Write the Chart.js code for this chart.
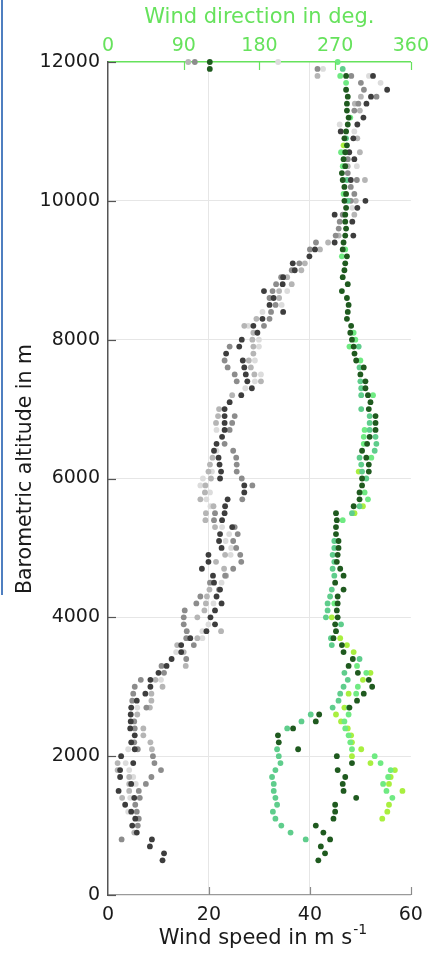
<!DOCTYPE html>
<html>
<head>
<meta charset="utf-8">
<script src="https://cdn.jsdelivr.net/npm/chart.js@4"></script>
<style>
  html, body { margin: 0; padding: 0; background: #fff; }
  #wrap { position: relative; width: 434px; height: 960px; }
  #edge { position: absolute; left: 1px; top: 0; width: 2px; height: 595px; background: #4f7fc0; }
</style>
</head>
<body>
<div id="wrap">
  <canvas id="profil" width="434" height="960"></canvas>
  <div id="edge"></div>
</div>
<script>
// altitude levels (m), top to bottom, one row every 100 m
const altitudes = [
  12000, 11900, 11800, 11700, 11600, 11500, 11400, 11300, 11200, 11100,
  11000, 10900, 10800, 10700, 10600, 10500, 10400, 10300, 10200, 10100,
  10000, 9900, 9800, 9700, 9600, 9500, 9400, 9300, 9200, 9100,
  9000, 8900, 8800, 8700, 8600, 8500, 8400, 8300, 8200, 8100,
  8000, 7900, 7800, 7700, 7600, 7500, 7400, 7300, 7200, 7100,
  7000, 6900, 6800, 6700, 6600, 6500, 6400, 6300, 6200, 6100,
  6000, 5900, 5800, 5700, 5600, 5500, 5400, 5300, 5200, 5100,
  5000, 4900, 4800, 4700, 4600, 4500, 4400, 4300, 4200, 4100,
  4000, 3900, 3800, 3700, 3600, 3500, 3400, 3300, 3200, 3100,
  3000, 2900, 2800, 2700, 2600, 2500, 2400, 2300, 2200, 2100,
  2000, 1900, 1800, 1700, 1600, 1500, 1400, 1300, 1200, 1100,
  1000, 900, 800, 700, 600, 500
];

// wind speed (m/s), four soundings
const speedA = [
  null, null, 52.5, null, 55.3, 52.1, 51.2, null, 50.6, 49.4,
  46.1, 48.6, null, 47.8, 48.8, null, null, 48.1, null, null,
  51.0, 49.4, 44.9, 48.4, null, 48.6, 44.9, 41.0, 39.9, 36.6,
  37.0, 34.7, 34.6, 30.9, 32.8, 32.0, 34.7, 30.6, 28.8, 29.6,
  26.5, 26.0, 23.4, 26.7, 27.0, 27.3, 27.6, 28.5, 26.4, 24.1,
  23.1, 23.1, 23.1, 23.1, 22.6, 21.5, 21.0, 21.9, 22.1, 22.4,
  22.2, 27.0, 27.0, 23.7, 23.2, 23.1, 22.6, 24.6, 22.2, 22.0,
  22.5, 19.9, 19.9, 18.6, 20.8, 21.0, 22.2, 21.5, 22.5, 21.2,
  20.3, 21.2, 19.5, 16.3, 14.5, 14.5, 12.6, 11.6, 10.0, 8.4,
  8.4, 7.4, 5.7, 4.6, 4.5, 4.5, 4.4, 5.3, 4.6, 5.3,
  2.6, 5.0, 2.4, 2.4, 4.6, 2.1, 5.2, 3.4, 4.6, 5.4,
  4.8, 5.7, 8.7, 8.3, 11.1, 10.8
];
const speedB = [
  17.2, 41.5, 48.2, 50.1, 50.7, 53.2, 49.6, 48.8, null, null,
  null, null, null, null, 47.5, null, 47.5, 49.3, 48.1, 48.8,
  48.1, null, 46.5, 45.9, 45.7, 45.1, 41.2, 40.0, null, 37.9,
  36.4, 34.3, 33.3, 32.6, 32.0, 33.2, 32.3, 32.0, 30.9, null,
  null, 24.1, null, 23.1, 23.7, 25.1, 25.5, null, null, null,
  null, 25.1, 24.6, 24.1, null, 23.1, 24.8, 25.4, 25.5, 25.5,
  26.5, 28.6, null, 26.6, null, 21.2, 21.0, 25.1, 25.7, 24.8,
  25.4, 26.2, 26.4, 24.8, 23.2, 20.2, 22.0, 18.3, 17.5, 15.2,
  15.0, 15.0, 15.6, 15.5, 17.0, null, 15.5, 10.6, 11.1, 6.5,
  5.3, 5.0, 4.8, 7.6, null, 5.2, 5.3, null, 5.2, 5.9,
  8.9, 9.2, 10.5, 8.6, 7.5, 6.1, 6.3, 5.4, 5.7, 6.1,
  5.9, null, 2.7, null, null, null
];
const speedC = [
  15.9, null, 41.5, null, null, 50.1, 48.9, 49.9, null, null,
  null, 49.4, null, 49.9, null, 47.5, null, 50.9, null, null,
  49.1, null, 48.8, null, null, 45.7, 43.6, 42.0, null, 39.0,
  38.3, 35.5, 36.4, 33.9, 33.9, null, null, 29.4, 27.0, 28.8,
  28.6, 28.8, 28.8, 27.9, 28.3, 29.0, 30.3, null, 24.6, null,
  22.0, 21.8, 21.4, null, null, null, null, 20.7, 20.2, 19.9,
  20.4, 19.3, 19.2, 18.3, 20.9, 19.4, 19.3, 21.2, null, null,
  null, 23.2, 21.4, 23.0, 23.4, null, 20.1, 19.6, 19.4, 19.1,
  17.7, null, 22.4, 17.7, 13.7, 15.0, null, 15.4, null, 9.4,
  10.8, 8.6, 8.6, 8.3, 5.8, null, 7.0, 7.0, 8.4, 8.7,
  null, 1.9, 1.9, 4.2, 4.2, 4.2, 2.8, null, null, null,
  null, 5.2, null, null, null, null
];
const speedD = [
  33.7, 42.6, 51.7, 54.0, null, null, null, null, null, 45.9,
  48.8, null, null, null, null, 49.3, null, null, null, null,
  null, 48.4, null, null, null, null, null, null, null, null,
  null, null, null, 35.5, null, 34.4, 30.6, null, 27.8, null,
  29.9, 29.9, null, 29.1, null, 30.3, 29.1, 27.2, null, null,
  null, null, null, 21.5, null, null, 21.5, null, null, 20.6,
  18.8, 18.3, 20.2, 19.5, 20.3, null, null, 22.6, 24.0, 23.3,
  24.4, 24.3, null, null, null, 22.5, null, null, 20.9, null,
  null, 19.9, 18.7, 18.7, null, 13.5, null, null, null, 10.5,
  null, null, null, 5.8, null, null, null, null, null, 4.0,
  null, 3.5, 4.2, 5.0, 5.5, null, 4.4, null, 4.0, null,
  null, null, null, null, null, null
];

// wind direction (deg), same soundings
const dirA = [
  121, 121, 283, null, 283, 285, 284, 284, 286, 285,
  283, 281, 284, 282, 280, 282, 278, 279, 281, 283,
  281, 283, 282, 282, 283, 282, 280, 279, 284, 282,
  281, 279, 285, 278, 284, 286, 285, 284, 289, 288,
  290, 292, 293, 295, 304, 300, 306, 306, 309, 312,
  310, 318, 318, 318, 311, 308, 302, 307, 310, 310,
  302, 302, 299, 299, 292, 271, 272, 271, 271, 274,
  274, 273, 272, 276, 280, 270, 280, 273, 273, 272,
  273, 270, 271, 268, 278, 280, 291, 286, 297, 310,
  314, 304, 296, 287, 251, 247, 220, 202, 203, 226,
  272, 290, 273, 282, 279, 280, 295, 270, 270, 268,
  247, 256, 264, 253, 258, 250
];
const dirB = [
  null, 279, null, null, null, null, null, null, null, null,
  null, 283, null, null, null, null, null, 284, null, null,
  285, null, null, null, null, null, null, null, null, null,
  null, null, null, null, null, null, null, null, null, null,
  null, 298, null, null, 299, null, 300, 301, 301, null,
  301, 311, 311, 311, 318, 319, 317, 299, 301, 302,
  307, null, null, null, 299, 290, null, null, null, 269,
  269, 267, 269, 267, 269, null, 266, 264, 261, 261,
  259, 277, null, 265, 266, null, 299, null, 281, 285,
  280, 276, 274, 267, 241, 230, 213, null, null, 201,
  203, 205, 199, 195, 197, 197, 199, 201, 196, 199,
  206, 217, 235, null, null, null
];
const dirC = [
  273, null, 276, 283, null, null, null, null, 288, null,
  null, null, null, 277, null, 279, null, null, null, 280,
  null, null, null, null, null, null, null, 282, 278, null,
  null, null, null, null, null, null, null, null, null, 292,
  294, 287, null, 300, null, null, null, null, 315, null,
  null, null, null, 305, 304, 304, null, 313, null, null,
  null, null, 305, 309, null, null, 279, null, null, null,
  null, null, null, null, null, null, null, null, 269, null,
  null, null, null, null, null, null, null, 296, 307, null,
  297, 295, null, 286, 286, 281, 282, 286, 288, 290,
  317, 324, 336, 333, 327, 331, 338, null, null, null,
  null, null, null, null, null, null
];
const dirD = [
  null, null, null, null, null, null, null, null, null, null,
  null, null, 280, null, null, null, null, null, null, null,
  null, null, null, null, null, null, null, null, null, null,
  null, null, null, null, null, null, null, null, null, null,
  null, null, null, null, null, null, null, null, null, null,
  null, null, null, null, null, null, null, null, null, 298,
  null, null, null, null, 303, 293, null, null, null, null,
  null, null, null, null, null, null, null, null, null, null,
  266, null, null, 276, 284, 292, null, null, 312, 303,
  null, 286, null, 281, 271, 277, 285, 289, 290, 301,
  290, 312, 341, 336, 334, 350, null, 334, 332, 326,
  null, null, null, null, null, null
];

const speedTicks = [0, 20, 40, 60];
const dirTicks = [0, 90, 180, 270, 360];
const altTicks = [0, 2000, 4000, 6000, 8000, 10000, 12000];

const VERT = '#66e25c';
const FONT = "'DejaVu Sans', sans-serif";

function toPoints(values) {
    const pts = [];
    altitudes.forEach((alt, i) => {
        if (values[i] !== null) pts.push({ x: values[i], y: alt });
    });
    return pts;
}

function serie(values, couleur, axe) {
    return {
        data: toPoints(values),
        xAxisID: axe,
        yAxisID: 'y',
        showLine: false,
        pointRadius: 2.9,
        pointBorderWidth: 0,
        pointBackgroundColor: couleur,
        pointHoverRadius: 2.9,
        clip: false
    };
}

// first dataset ends up drawn on top
const datasets = [
    serie(dirA, '#1f5a1f', 'x2'),
    serie(speedA, '#3d3d3d', 'x'),
    serie(dirB, '#5fcd8c', 'x2'),
    serie(speedB, '#8c8c8c', 'x'),
    serie(dirC, '#6fea82', 'x2'),
    serie(speedC, '#b5b5b5', 'x'),
    serie(dirD, '#a9ef3f', 'x2'),
    serie(speedD, '#dcdcdc', 'x')
];

// short ticks pointing into the plot, plus the two titles drawn by hand
const habillage = {
    id: 'habillage',
    afterDraw(chart) {
        const { ctx, chartArea: a, scales } = chart;
        const len = 8;
        const trait = (x1, y1, x2, y2) => {
            ctx.beginPath();
            ctx.moveTo(x1, y1);
            ctx.lineTo(x2, y2);
            ctx.stroke();
        };
        ctx.save();
        ctx.lineWidth = 1.2;

        ctx.strokeStyle = '#555';
        altTicks.forEach(v => {
            const py = Math.round(scales.y.getPixelForValue(v)) + 0.5;
            trait(a.left, py, a.left + len, py);
        });

        ctx.strokeStyle = '#8a8a8a';
        speedTicks.slice(1).forEach(v => {
            const px = Math.round(scales.x.getPixelForValue(v)) + 0.5;
            trait(px, a.bottom, px, a.bottom - len);
        });

        ctx.strokeStyle = VERT;
        dirTicks.slice(1).forEach(v => {
            const px = Math.round(scales.x2.getPixelForValue(v)) + 0.5;
            trait(px, a.top, px, a.top + len);
        });

        ctx.fillStyle = '#1a1a1a';
        ctx.textBaseline = 'alphabetic';

        // Wind speed in m s^-1
        const principal = 'Wind speed in m s';
        const exposant = '-1';
        ctx.font = '21px ' + FONT;
        const w1 = ctx.measureText(principal).width;
        ctx.font = '14px ' + FONT;
        const w2 = ctx.measureText(exposant).width;
        const x0 = (a.left + a.right) / 2 + 3 - (w1 + w2) / 2;
        ctx.font = '21px ' + FONT;
        ctx.textAlign = 'left';
        ctx.fillText(principal, x0, 944);
        ctx.font = '14px ' + FONT;
        ctx.fillText(exposant, x0 + w1 + 1, 934);

        // altitude title, rotated
        ctx.translate(31, 469);
        ctx.rotate(-Math.PI / 2);
        ctx.font = '20.5px ' + FONT;
        ctx.textAlign = 'center';
        ctx.fillText('Barometric altitude in m', 0, 0);
        ctx.restore();
    }
};

const grille = (bords) => (c) => bords.includes(c.tick.value) ? 'rgba(0,0,0,0)' : '#e6e6e6';
const brut = v => String(v);

new Chart(document.getElementById('profil'), {
    type: 'scatter',
    data: { datasets: datasets },
    options: {
        responsive: false,
        animation: false,
        events: [],
        layout: { padding: { left: 0, right: 16, top: 0, bottom: 0 } },
        plugins: {
            legend: { display: false },
            tooltip: { enabled: false }
        },
        scales: {
            x: {
                type: 'linear',
                position: 'bottom',
                min: 0,
                max: 60,
                afterBuildTicks: s => { s.ticks = speedTicks.map(v => ({ value: v })); },
                ticks: { padding: 9, color: '#1a1a1a', font: { family: FONT, size: 19 }, callback: brut },
                grid: { color: grille([0, 60]), drawTicks: false, lineWidth: 1 },
                border: { display: true, color: '#9a9a9a', width: 1.2 },
                afterFit: s => { s.height = 65; }
            },
            x2: {
                type: 'linear',
                position: 'top',
                min: 0,
                max: 360,
                afterBuildTicks: s => { s.ticks = dirTicks.map(v => ({ value: v })); },
                ticks: { padding: 5, color: VERT, font: { family: FONT, size: 19 }, callback: brut },
                grid: { display: false, drawTicks: false },
                border: { display: true, color: VERT, width: 1.5 },
                title: {
                    display: true,
                    text: 'Wind direction in deg.',
                    color: VERT,
                    font: { family: FONT, size: 21 },
                    padding: { top: 5, bottom: 0 }
                },
                afterFit: s => { s.height = 62; }
            },
            y: {
                type: 'linear',
                position: 'left',
                min: 0,
                max: 12000,
                afterBuildTicks: s => { s.ticks = altTicks.map(v => ({ value: v })); },
                ticks: { padding: 8, color: '#1a1a1a', font: { family: FONT, size: 19 }, callback: brut },
                grid: { color: grille([0, 12000]), drawTicks: false, lineWidth: 1 },
                border: { display: true, color: '#555', width: 1.5 },
                afterFit: s => { s.width = 108; }
            }
        }
    },
    plugins: [habillage]
});
</script>
</body>
</html>
